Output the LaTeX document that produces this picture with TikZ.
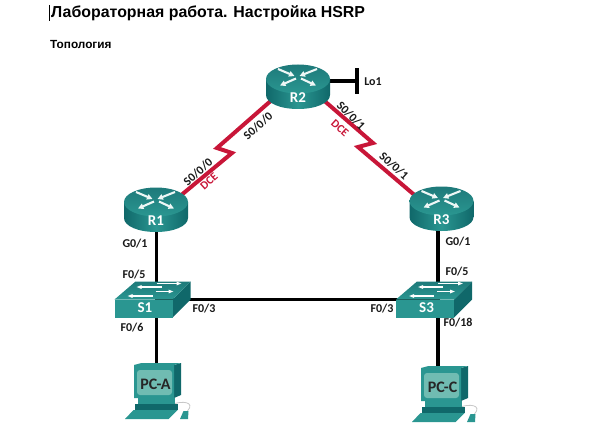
\documentclass[tikz,border=0pt]{standalone}
\usepackage{fontspec}
\setmainfont{Liberation Sans}
\newfontfamily\carlito{Carlito}
\usetikzlibrary{backgrounds,arrows.meta}
\definecolor{tealdark}{RGB}{16,104,106}
\definecolor{tealmid}{RGB}{42,150,145}
\definecolor{tealtop}{RGB}{30,122,122}
\definecolor{teallight}{RGB}{112,188,178}
\definecolor{serialred}{RGB}{200,22,56}

\begin{document}
\begin{tikzpicture}[x=1pt,y=-1pt]
\tikzset{
  hitbox/.style={inner sep=0pt,minimum width=#1,minimum height=36pt},
  devlab/.style={font=\carlito\bfseries\fontsize{15}{15}\selectfont,text=white,inner sep=0pt},
  pclab/.style={font=\carlito\bfseries\fontsize{16}{16}\selectfont,text=black!85,inner sep=0pt},
  port/.style={font=\carlito\bfseries\fontsize{12}{12}\selectfont,text=black!90,inner sep=0pt},
  dce/.style={font=\carlito\bfseries\fontsize{11.5}{12}\selectfont,text=serialred,inner sep=0pt},
  eth/.style={draw=black,line width=3.7pt},
  ser/.style={draw=serialred,line width=4pt,line join=miter},
  flow/.style={draw=white!92!tealmid,line width=2.1pt,-{Triangle[length=5.5pt,width=5.5pt]}},
  flat/.style={draw=white,line width=1.2pt,-{Triangle[length=5pt,width=3.5pt]}},
  pics/router/.style={code={
    \shade[left color=tealdark,right color=tealdark,middle color=tealmid]
      (-32,-8) -- (-32,8) .. controls (-32,16) and (-18,22) .. (0,22)
      .. controls (18,22) and (32,16) .. (32,8) -- (32,-8) -- cycle;
    \shade[top color=tealtop,bottom color=tealmid] (0,-8) ellipse [x radius=32,y radius=14.5];
    \draw[flow] (-2,-8.5) -- (-18,-1.5);
    \draw[flow] (3,-8.5) -- (18,-1.5);
    \draw[flow] (-20,-18) -- (-3.5,-11);
    \draw[flow] (19,-18) -- (1.5,-11);
    \node[hitbox=64pt] (box) at (0,0) {};
    \node[devlab] (lab) at (0,10.5) {#1};
  }},
  pics/switch/.style={code={
    \fill[tealdark] (16,0) -- (34,-18) -- (34,0) -- (16,18) -- cycle;
    \fill[tealmid] (-42,0) rectangle (16,18);
    \shade[top color=tealtop,bottom color=tealmid] (-42,0) -- (-21,-18) -- (34,-18) -- (16,0) -- cycle;
    \draw[flat] (0,-16) -- (25,-16);
    \draw[flat] (5,-12.5) -- (-20,-12.5);
    \draw[flat] (-1,-8) -- (17,-8);
    \draw[flat] (-4,-3.5) -- (-29,-3.5);
    \node[hitbox=50pt] (box) at (0,0) {};
    \node[devlab] (lab) at (-11.5,8.5) {#1};
  }},
  pics/pcicon/.style={code={
    \draw[black!22,line width=.8pt] (13,24) .. controls (25,19) and (38,21) .. (30,30);
    \fill[tealmid] (26,30) -- (31,30) -- (30.5,38) -- (22.5,38) -- cycle;
    \fill[tealmid] (-32.5,38) -- (-24,29) -- (20,29) -- (11,38) -- cycle;
    \fill[tealdark] (-23,23) -- (20,23) -- (20,29) -- (-23,29) -- cycle;
    \fill[tealmid] (-19.5,17) -- (17.5,17) -- (17.5,23) -- (-19.5,23) -- cycle;
    \fill[tealdark] (16.5,-16) -- (23.5,-18) -- (23.5,14) -- (16.5,17) -- cycle;
    \fill[tealmid] (-23.5,-16) -- (-16,-18) -- (23.5,-18) -- (16.5,-16) -- (16.5,17) -- (-23.5,17) -- cycle;
    \fill[teallight,rounded corners=3pt] (-20.5,-11) rectangle (14.5,14);
    \node[hitbox=47pt] (box) at (0,0) {};
    \node[pclab] (lab) at (-2,3) {#1};
  }}
}
\useasboundingbox (0,0) rectangle (603,444);
\node[anchor=west,inner sep=0pt,font=\bfseries\fontsize{15.9}{16}\selectfont] (title) at (51,13) {Лабораторная работа. Настройка HSRP};
\node[anchor=west,inner sep=0pt,font=\bfseries\fontsize{11.8}{12}\selectfont] (topo) at (50,44) {Топология};
\draw[black,line width=1pt] ([xshift=-1.5]title.west |- 0,5) -- ([xshift=-1.5]title.west |- 0,21);
\pic (R1) at (156,210) {router=R1};
\pic (R2) at (298,87) {router=R2};
\pic (R3) at (441.5,209) {router=R3};
\pic (S1) at (156.5,299.5) {switch=S1};
\pic (S3) at (438,299.5) {switch=S3};
\pic (PCA) at (157.5,381) {pcicon=PC-A};
\pic (PCC) at (444.5,384) {pcicon=PC-C};
\coordinate (Lo1end) at (357,81);
\coordinate (zigAa) at (232,153);
\coordinate (zigAb) at (217,148);
\coordinate (zigBa) at (373,143);
\coordinate (zigBb) at (358,147);
\begin{scope}[on background layer]
\draw[eth] (S1box.center |- R1box.center) -- (S1box.center);
\draw[eth] (S3box.center |- R3box.center) -- (S3box.center);
\draw[eth] (S1box.center) -- (S3box.center);
\draw[eth] (S1box.center) -- (S1box.center |- PCAbox.center);
\draw[eth] (S3box.center) -- (S3box.center |- PCCbox.center);
\draw[eth] (R2box.center |- Lo1end) -- (Lo1end);
\draw[ser] ([yshift=-6]R1box.center) -- (zigAa) -- (zigAb) -- ([yshift=10]R2box.center);
\draw[ser] ([yshift=9]R2box.center) -- (zigBa) -- (zigBb) -- ([yshift=-9]R3box.center);
\end{scope}
\draw[eth] ([yshift=-13]Lo1end) -- ([yshift=13]Lo1end);
\node[port] (lo1) at (373,82) {Lo1};
\node[port,rotate=42] (sa1) at (198,172) {S0/0/0};
\node[dce,rotate=42] (dcea) at (209,181) {DCE};
\node[port,rotate=42] (sa2) at (258,126) {S0/0/0};
\node[port,rotate=-45] (sb1) at (351,116) {S0/0/1};
\node[dce,rotate=-42] (dceb) at (340,128) {DCE};
\node[port,rotate=-42] (sb2) at (394,166) {S0/0/1};
\node[port] (g1) at (135,244) {G0/1};
\node[port] (f15) at (134,275) {F0/5};
\node[port] (f13) at (204,309) {F0/3};
\node[port] (f16) at (132,328) {F0/6};
\node[port] (g3) at (458,242) {G0/1};
\node[port] (f35) at (457,272) {F0/5};
\node[port] (f33) at (382,309) {F0/3};
\node[port] (f318) at (458,323) {F0/18};
\end{tikzpicture}
\end{document}
